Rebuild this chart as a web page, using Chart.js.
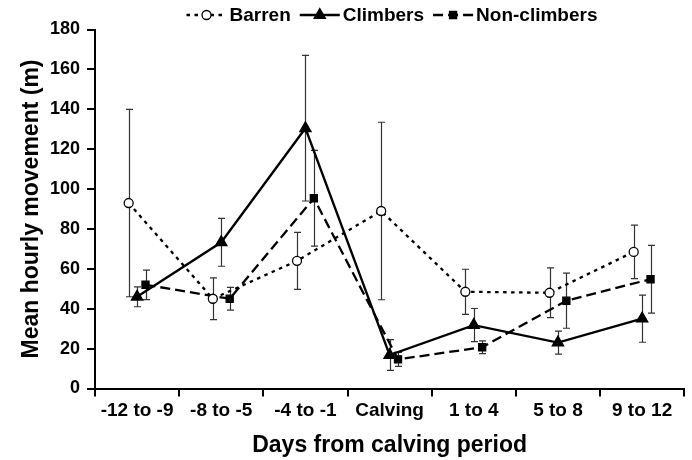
<!DOCTYPE html>
<html>
<head>
<meta charset="utf-8">
<script src="https://cdn.jsdelivr.net/npm/chart.js@4/dist/chart.umd.min.js"></script>
<style>
    html, body { margin: 0; padding: 0; background: #fff; }
</style>
</head>
<body>
<canvas id="chart" width="692" height="460"></canvas>
<script>
// Categories and series values (mean +/- error)
const categories = ['-12 to -9', '-8 to -5', '-4 to -1', 'Calving', '1 to 4', '5 to 8', '9 to 12'];

const barrenMean = [93, 45, 64, 89, 48.5, 48, 68.5];
const barrenErr = [47, 10.5, 14.3, 44.5, 11.3, 12.5, 13.4];

const climbersMean = [46, 73.3, 130.5, 16.8, 31.8, 23, 35];
const climbersErr = [5, 12, 36.5, 7.7, 8.3, 5.8, 11.8];

const nonClimbersMean = [52, 45, 95.4, 14.6, 20.7, 44, 54.8];
const nonClimbersErr = [7.4, 5.7, 24, 3.5, 3.2, 13.8, 17];

const yTicks = [0, 20, 40, 60, 80, 100, 120, 140, 160, 180];

const fontFamily = '"Liberation Sans", Arial, Helvetica, sans-serif';

// each series is nudged sideways inside its category (dodge)
const series = [
    { label: 'Barren', means: barrenMean, errs: barrenErr, shift: -0.1 },
    { label: 'Climbers', means: climbersMean, errs: climbersErr, shift: 0 },
    { label: 'Non-climbers', means: nonClimbersMean, errs: nonClimbersErr, shift: 0.1 }
];

const styles = {
    'Barren': { dash: [3.5, 4.5], point: 'circle', radius: 4.5, fill: '#fff' },
    'Climbers': { dash: [], point: 'triangle', radius: 6.5, fill: '#000' },
    'Non-climbers': { dash: [10, 5], point: 'rect', radius: 5, fill: '#000' }
};

function toPoints(means, shift) {
    return means.map((v, i) => ({ x: i + shift, y: v }));
}

/**
 * Vertical error bars with caps, drawn under the markers
 */
const errorBars = {
    id: 'errorBars',
    beforeDatasetsDraw(chart) {
        const { ctx } = chart;
        const xs = chart.scales.xl;
        const ys = chart.scales.y;
        ctx.save();
        ctx.strokeStyle = '#333';
        ctx.lineWidth = 1.2;
        series.forEach(s => {
            s.means.forEach((m, i) => {
                const px = Math.round(xs.getPixelForValue(i + s.shift)) + 0.5;
                const top = ys.getPixelForValue(m + s.errs[i]);
                const bot = ys.getPixelForValue(m - s.errs[i]);
                ctx.beginPath();
                ctx.moveTo(px, top);
                ctx.lineTo(px, bot);
                ctx.moveTo(px - 3.5, top);
                ctx.lineTo(px + 3.5, top);
                ctx.moveTo(px - 3.5, bot);
                ctx.lineTo(px + 3.5, bot);
                ctx.stroke();
            });
        });
        ctx.restore();
    }
};

/**
 * Legend with line sample + marker, like the original figure
 */
const lineLegend = {
    id: 'lineLegend',
    afterDraw(chart) {
        const { ctx } = chart;
        const sampleLen = 40;
        const gapText = 3;
        const gapItem = 9;
        const cy = 15;
        ctx.save();
        ctx.font = 'bold 19px ' + fontFamily;
        ctx.textBaseline = 'middle';
        const items = chart.data.datasets;
        let total = 0;
        items.forEach((ds, i) => {
            total += sampleLen + gapText + ctx.measureText(ds.label).width;
            if (i < items.length - 1) total += gapItem;
        });
        let x = 392 - total / 2;
        items.forEach(ds => {
            ctx.strokeStyle = '#000';
            ctx.lineWidth = ds.borderWidth;
            ctx.setLineDash(ds.borderDash || []);
            ctx.beginPath();
            ctx.moveTo(x, cy);
            ctx.lineTo(x + sampleLen, cy);
            ctx.stroke();
            ctx.setLineDash([]);
            ctx.fillStyle = ds.pointBackgroundColor;
            ctx.lineWidth = ds.pointBorderWidth;
            Chart.helpers.drawPoint(ctx, {
                pointStyle: ds.pointStyle,
                radius: ds.pointRadius,
                borderWidth: ds.pointBorderWidth,
                rotation: 0
            }, x + sampleLen / 2, cy);
            ctx.fillStyle = '#000';
            ctx.fillText(ds.label, x + sampleLen + gapText, cy + 1);
            x += sampleLen + gapText + ctx.measureText(ds.label).width + gapItem;
        });
        ctx.restore();
    }
};

Chart.defaults.font.family = fontFamily;
Chart.defaults.font.weight = 'bold';
Chart.defaults.color = '#000';

new Chart(document.getElementById('chart'), {
    type: 'line',
    data: {
        labels: categories,
        datasets: series.map(s => {
            const st = styles[s.label];
            return {
                label: s.label,
                data: toPoints(s.means, s.shift),
                xAxisID: 'xl',
                yAxisID: 'y',
                borderColor: '#000',
                borderWidth: 2.3,
                borderDash: st.dash,
                pointStyle: st.point,
                pointRadius: st.radius,
                pointHoverRadius: st.radius,
                pointBackgroundColor: st.fill,
                pointBorderColor: '#000',
                pointBorderWidth: 1.3,
                tension: 0,
                fill: false
            };
        })
    },
    options: {
        responsive: false,
        devicePixelRatio: 1,
        animation: false,
        layout: { padding: { top: 29.5, right: 7, left: 8, bottom: 0 } },
        plugins: {
            legend: { display: false },
            tooltip: { enabled: false }
        },
        scales: {
            x: {
                type: 'category',
                position: 'bottom',
                offset: true,
                grid: { offset: true, drawOnChartArea: false, color: '#000', lineWidth: 2, tickLength: 8 },
                border: { color: '#000', width: 2 },
                ticks: { font: { size: 19, weight: 'bold' }, color: '#000', padding: 3, maxRotation: 0, autoSkip: false },
                title: {
                    display: true,
                    text: 'Days from calving period',
                    font: { size: 23, weight: 'bold' },
                    color: '#000',
                    padding: { top: 0, bottom: 1 }
                },
                afterFit(scale) { scale.height = 71.5; }
            },
            xl: {
                type: 'linear',
                axis: 'x',
                position: 'bottom',
                display: false,
                min: -0.5,
                max: categories.length - 0.5
            },
            y: {
                type: 'linear',
                min: yTicks[0],
                max: yTicks[yTicks.length - 1],
                afterBuildTicks(scale) { scale.ticks = yTicks.map(v => ({ value: v })); },
                grid: { drawOnChartArea: false, color: '#000', lineWidth: 2, tickLength: 8 },
                border: { color: '#000', width: 2 },
                ticks: { font: { size: 18, weight: 'bold' }, color: '#000', padding: 7 },
                title: {
                    display: true,
                    text: 'Mean hourly movement (m)',
                    font: { size: 23, weight: 'bold' },
                    color: '#000',
                    padding: { top: 10, bottom: 0 }
                },
                afterFit(scale) { scale.width = 87; }
            }
        }
    },
    plugins: [errorBars, lineLegend]
});
</script>
</body>
</html>
